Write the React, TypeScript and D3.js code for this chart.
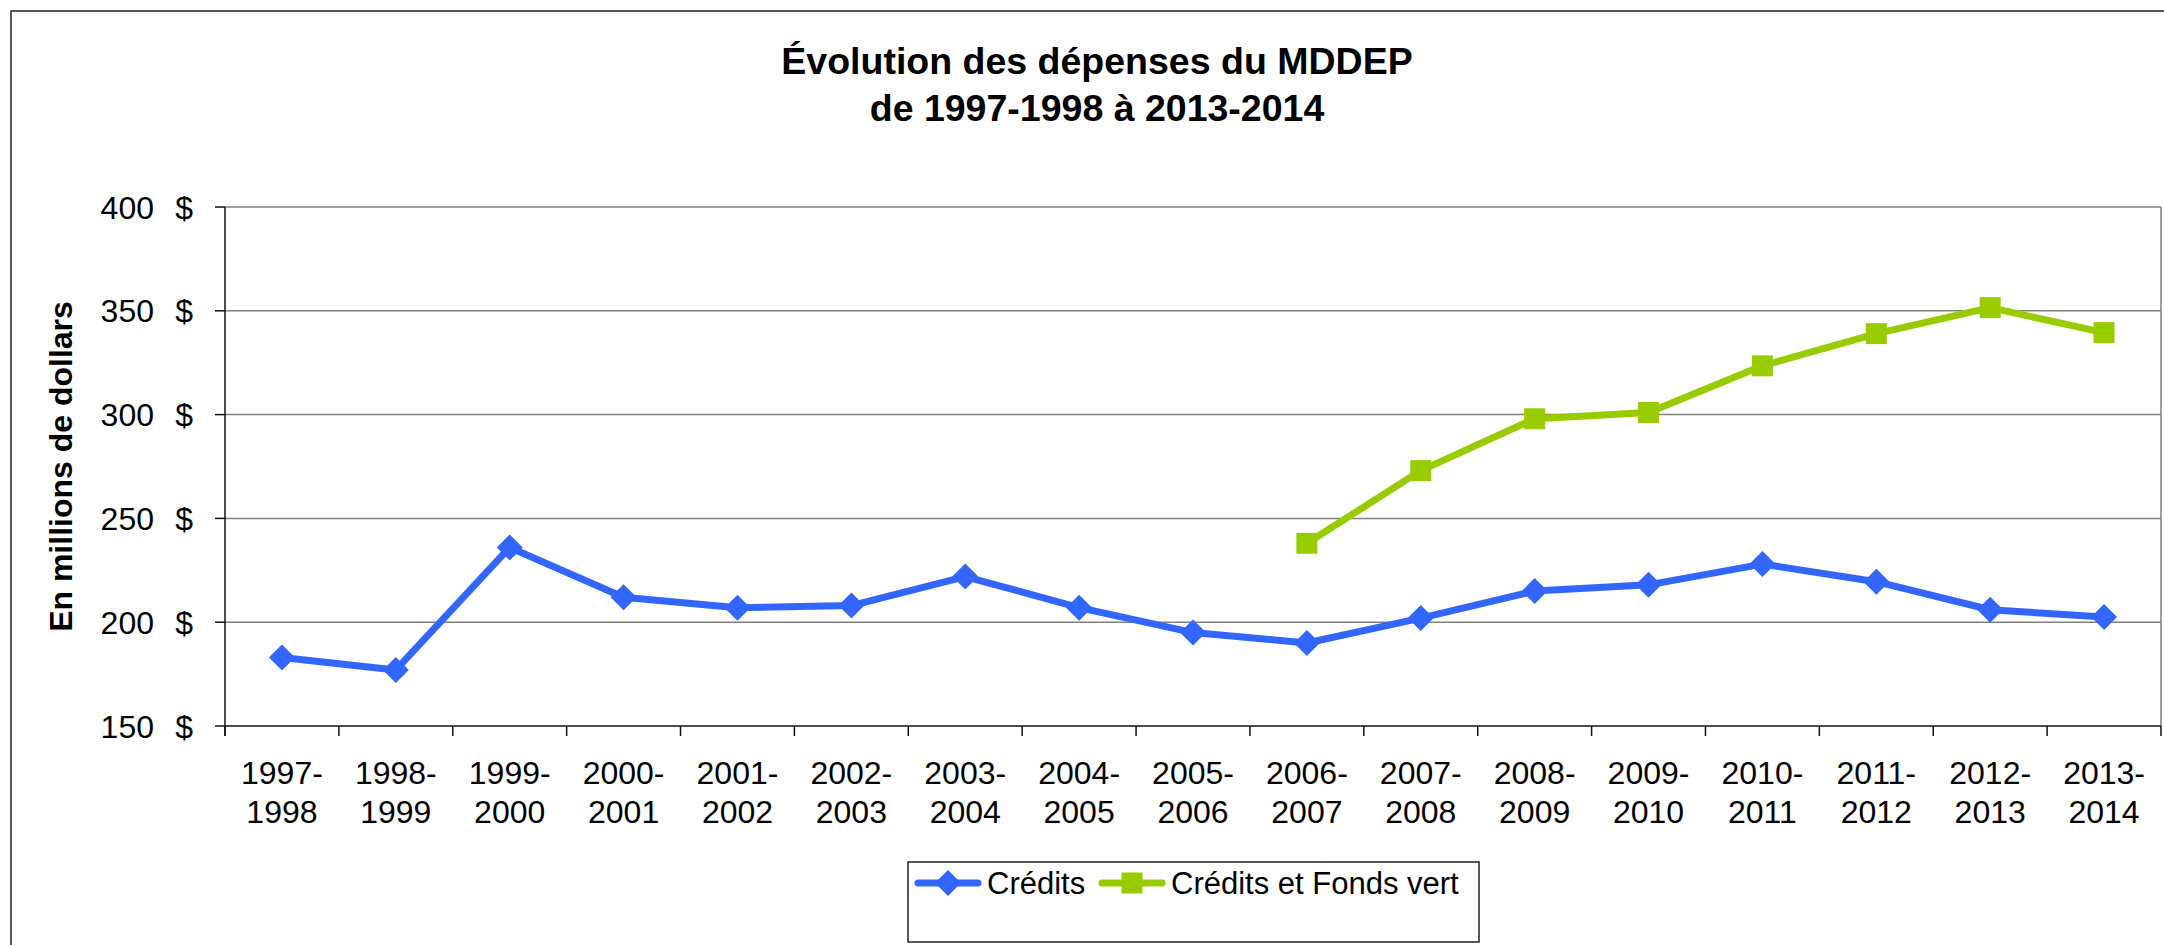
import * as d3 from "d3";
import { useEffect, useRef } from "react";

const WIDTH = 2164;
const HEIGHT = 945;
const FONT = "'Liberation Sans', Arial, sans-serif";

const PERIODS = [
  "1997-1998",
  "1998-1999",
  "1999-2000",
  "2000-2001",
  "2001-2002",
  "2002-2003",
  "2003-2004",
  "2004-2005",
  "2005-2006",
  "2006-2007",
  "2007-2008",
  "2008-2009",
  "2009-2010",
  "2010-2011",
  "2011-2012",
  "2012-2013",
  "2013-2014",
];

// Crédits (millions $), one per period
const CREDITS = [
  183, 177, 236, 212, 207, 208, 222, 207, 195, 190, 202, 215, 218, 228, 219.5,
  206, 202.5,
];

// Crédits et Fonds vert starts in 2006-2007
const FONDS_VERT_PERIODS = [
  "2006-2007",
  "2007-2008",
  "2008-2009",
  "2009-2010",
  "2010-2011",
  "2011-2012",
  "2012-2013",
  "2013-2014",
];
const FONDS_VERT = [238, 273, 298, 301, 323.5, 339, 351.5, 339.5];

const Y_TICKS = [150, 200, 250, 300, 350, 400];
const TITLE = ["Évolution des dépenses du MDDEP", "de 1997-1998 à 2013-2014"];
const Y_LABEL = "En millions de dollars";
const SERIES_NAMES = ["Crédits", "Crédits et Fonds vert"];

const BLUE = "#3366ff";
const GREEN = "#99cc00";

export default function App() {
  const ref = useRef<SVGSVGElement>(null);

  useEffect(() => {
    if (!ref.current) return;
    const svg = d3.select(ref.current);
    svg.selectAll("*").remove();

    const plot = { left: 225, right: 2161, top: 207, bottom: 726 };

    const x = d3.scaleBand<string>().domain(PERIODS).range([plot.left, plot.right]);
    const y = d3.scaleLinear().domain([150, 400]).range([plot.bottom, plot.top]);
    const cx = (p: string) => (x(p) ?? 0) + x.bandwidth() / 2;

    svg
      .append("rect")
      .attr("width", WIDTH)
      .attr("height", HEIGHT)
      .attr("fill", "#fff");

    // chart area frame (runs off the right and bottom edges)
    svg
      .append("rect")
      .attr("x", 11)
      .attr("y", 11)
      .attr("width", 2170)
      .attr("height", 1000)
      .attr("fill", "none")
      .attr("stroke", "#222")
      .attr("stroke-width", 1.5);

    // title
    svg
      .append("g")
      .selectAll("text")
      .data(TITLE)
      .join("text")
      .attr("x", 1097)
      .attr("y", (_, i) => 74 + i * 47)
      .attr("text-anchor", "middle")
      .style("font-family", FONT)
      .style("font-size", "37.5px")
      .style("font-weight", "700")
      .text((d) => d);

    // gridlines + plot border
    svg
      .append("g")
      .selectAll("line")
      .data(Y_TICKS.slice(1))
      .join("line")
      .attr("x1", plot.left)
      .attr("x2", plot.right)
      .attr("y1", (d) => y(d))
      .attr("y2", (d) => y(d))
      .attr("stroke", "#808080")
      .attr("stroke-width", 1.5);

    svg
      .append("line")
      .attr("x1", plot.right)
      .attr("x2", plot.right)
      .attr("y1", plot.top)
      .attr("y2", plot.bottom)
      .attr("stroke", "#808080")
      .attr("stroke-width", 1.5);

    // axes
    const axes = svg.append("g").attr("stroke", "#111").attr("stroke-width", 1.5);
    axes
      .append("line")
      .attr("x1", plot.left)
      .attr("x2", plot.left)
      .attr("y1", plot.top)
      .attr("y2", plot.bottom + 10);
    axes
      .append("line")
      .attr("x1", plot.left)
      .attr("x2", plot.right)
      .attr("y1", plot.bottom)
      .attr("y2", plot.bottom);
    axes
      .selectAll(".ytick")
      .data(Y_TICKS)
      .join("line")
      .attr("class", "ytick")
      .attr("x1", plot.left - 10)
      .attr("x2", plot.left)
      .attr("y1", (d) => y(d))
      .attr("y2", (d) => y(d));
    axes
      .selectAll(".xtick")
      .data(PERIODS.map((p) => x(p) ?? 0).concat([plot.right]))
      .join("line")
      .attr("class", "xtick")
      .attr("x1", (d) => d)
      .attr("x2", (d) => d)
      .attr("y1", plot.bottom)
      .attr("y2", plot.bottom + 10);

    // y tick labels: number and "$" set apart
    const yLabels = svg
      .append("g")
      .style("font-family", FONT)
      .style("font-size", "32px")
      .attr("fill", "#000");
    yLabels
      .selectAll(".num")
      .data(Y_TICKS)
      .join("text")
      .attr("class", "num")
      .attr("x", 154)
      .attr("y", (d) => y(d) + 11.5)
      .attr("text-anchor", "end")
      .text((d) => d);
    yLabels
      .selectAll(".cur")
      .data(Y_TICKS)
      .join("text")
      .attr("class", "cur")
      .attr("x", 193)
      .attr("y", (d) => y(d) + 11.5)
      .attr("text-anchor", "end")
      .text("$");

    // x tick labels on two lines
    const xLabels = svg
      .append("g")
      .style("font-family", FONT)
      .style("font-size", "32px")
      .attr("text-anchor", "middle")
      .selectAll("text")
      .data(PERIODS)
      .join("text")
      .attr("x", (d) => cx(d));
    xLabels
      .append("tspan")
      .attr("x", (d) => cx(d))
      .attr("y", 784)
      .text((d) => d.split("-")[0] + "-");
    xLabels
      .append("tspan")
      .attr("x", (d) => cx(d))
      .attr("y", 823)
      .text((d) => d.split("-")[1]);

    // y axis title
    svg
      .append("text")
      .attr("transform", `translate(72,${(plot.top + plot.bottom) / 2}) rotate(-90)`)
      .attr("text-anchor", "middle")
      .style("font-family", FONT)
      .style("font-size", "32px")
      .style("font-weight", "700")
      .text(Y_LABEL);

    // series
    const line = d3
      .line<[string, number]>()
      .x((d) => cx(d[0]))
      .y((d) => y(d[1]));

    const diamond = d3.symbol(d3.symbolSquare, 338)();
    const square = d3.symbol(d3.symbolSquare, 441)();

    const creditPts: [string, number][] = PERIODS.map((p, i) => [p, CREDITS[i]]);
    const vertPts: [string, number][] = FONDS_VERT_PERIODS.map((p, i) => [p, FONDS_VERT[i]]);

    svg
      .append("path")
      .datum(creditPts)
      .attr("d", line)
      .attr("fill", "none")
      .attr("stroke", BLUE)
      .attr("stroke-width", 7)
      .attr("stroke-linejoin", "round");
    svg
      .append("g")
      .selectAll("path")
      .data(creditPts)
      .join("path")
      .attr("d", diamond)
      .attr("transform", (d) => `translate(${cx(d[0])},${y(d[1])}) rotate(45)`)
      .attr("fill", BLUE);

    svg
      .append("path")
      .datum(vertPts)
      .attr("d", line)
      .attr("fill", "none")
      .attr("stroke", GREEN)
      .attr("stroke-width", 7)
      .attr("stroke-linejoin", "round");
    svg
      .append("g")
      .selectAll("path")
      .data(vertPts)
      .join("path")
      .attr("d", square)
      .attr("transform", (d) => `translate(${cx(d[0])},${y(d[1])})`)
      .attr("fill", GREEN);

    // legend
    const legend = svg.append("g");
    legend
      .append("rect")
      .attr("x", 908)
      .attr("y", 862)
      .attr("width", 571)
      .attr("height", 80)
      .attr("fill", "#fff")
      .attr("stroke", "#222")
      .attr("stroke-width", 1.5);

    const items = [
      { name: SERIES_NAMES[0], color: BLUE, marker: diamond, rot: 45, x0: 918 },
      { name: SERIES_NAMES[1], color: GREEN, marker: square, rot: 0, x0: 1102 },
    ];
    const ly = 883;
    items.forEach((it) => {
      legend
        .append("line")
        .attr("x1", it.x0)
        .attr("x2", it.x0 + 60)
        .attr("y1", ly)
        .attr("y2", ly)
        .attr("stroke", it.color)
        .attr("stroke-width", 7)
        .attr("stroke-linecap", "round");
      legend
        .append("path")
        .attr("d", it.marker)
        .attr("transform", `translate(${it.x0 + 30},${ly}) rotate(${it.rot})`)
        .attr("fill", it.color);
      legend
        .append("text")
        .attr("x", it.x0 + 69)
        .attr("y", ly + 11)
        .style("font-family", FONT)
        .style("font-size", "31px")
        .text(it.name);
    });
  }, []);

  return (
    <svg
      ref={ref}
      width={WIDTH}
      height={HEIGHT}
      style={{ position: "absolute", left: 0, top: 0, display: "block" }}
    />
  );
}
